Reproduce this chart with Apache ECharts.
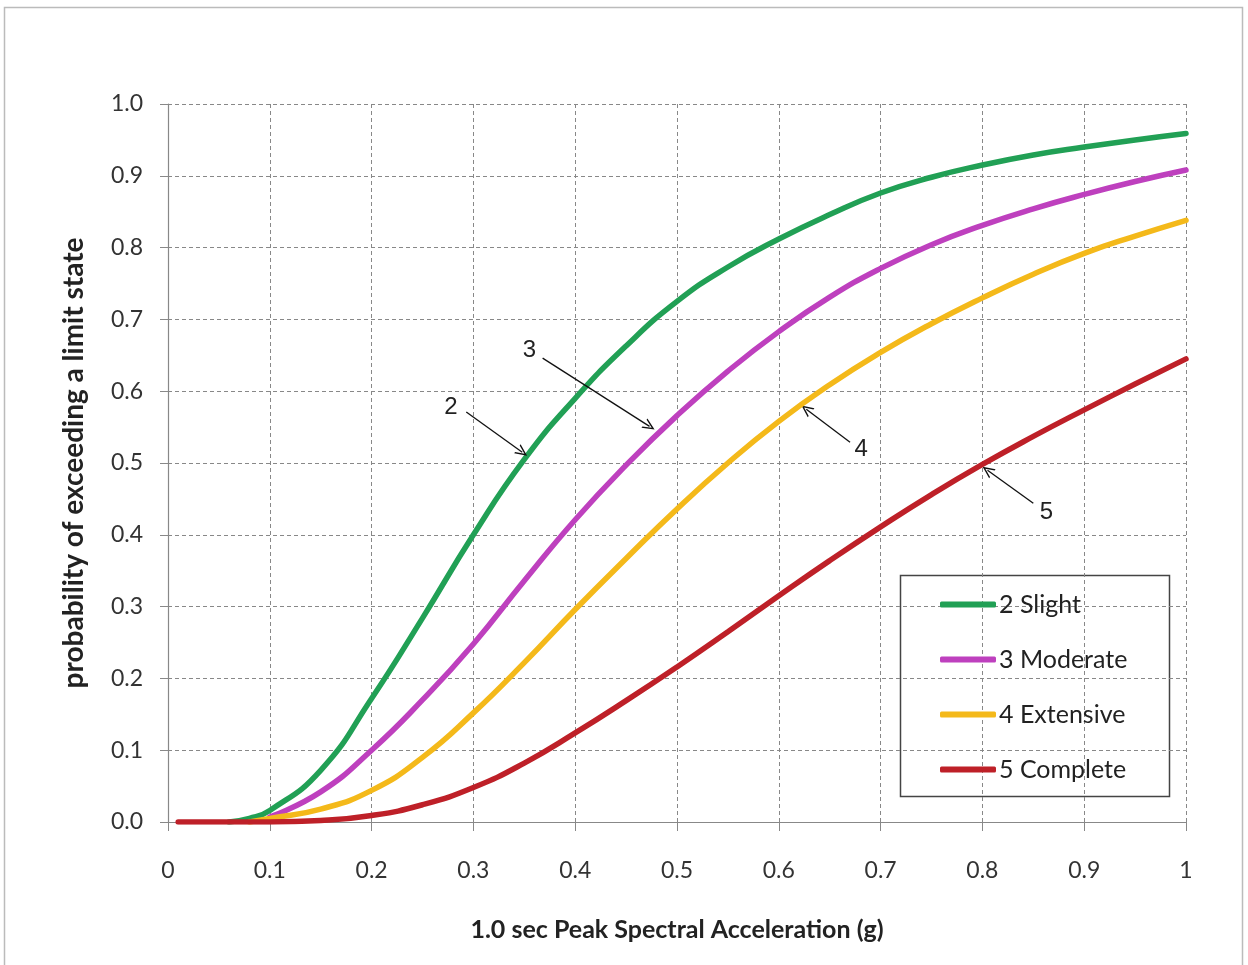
<!DOCTYPE html>
<html>
<head>
<meta charset="utf-8">
<script src="https://cdn.jsdelivr.net/npm/echarts@6/dist/echarts.min.js"></script>
<style>
html,body{margin:0;padding:0;background:#fff;}
#chart{width:1248px;height:965px;}
</style>
</head>
<body>
<div id="chart"></div>
<script>
// ---- data ----
var xValues   = [0.01, 0.06, 0.08, 0.10, 0.15, 0.20, 0.25, 0.30, 0.35, 0.40, 0.45, 0.50, 0.55, 0.60, 0.65, 0.70, 0.75, 0.80, 0.85, 0.90, 0.95, 1.00];
var slight    = [null, 0.000, 0.005, 0.016, 0.072, 0.172, 0.284, 0.400, 0.505, 0.590, 0.663, 0.725, 0.773, 0.812, 0.846, 0.876, 0.898, 0.915, 0.929, 0.940, 0.950, 0.959];
var moderate  = [null, null, null, 0.007, 0.042, 0.100, 0.170, 0.248, 0.336, 0.421, 0.497, 0.566, 0.628, 0.683, 0.731, 0.771, 0.804, 0.831, 0.854, 0.874, 0.892, 0.908];
var extensive = [null, null, 0.000, 0.005, 0.018, 0.044, 0.090, 0.152, 0.222, 0.296, 0.367, 0.436, 0.500, 0.558, 0.609, 0.654, 0.694, 0.730, 0.763, 0.792, 0.816, 0.838];
var complete  = [0.000, 0.000, 0.000, 0.000, 0.002, 0.009, 0.024, 0.048, 0.082, 0.124, 0.169, 0.216, 0.265, 0.315, 0.364, 0.411, 0.456, 0.498, 0.537, 0.574, 0.610, 0.645];
var seriesNames = ['2 Slight', '3 Moderate', '4 Extensive', '5 Complete'];
var xTicks = ['0', '0.1', '0.2', '0.3', '0.4', '0.5', '0.6', '0.7', '0.8', '0.9', '1'];
var yTicks = ['0.0', '0.1', '0.2', '0.3', '0.4', '0.5', '0.6', '0.7', '0.8', '0.9', '1.0'];
var xTitle = '1.0 sec Peak Spectral Acceleration (g)';
var yTitle = 'probability of exceeding a limit state';
// annotation arrows: label, label position, arrow start, arrow tip (data coords)
var noteLabels = ['2', '3', '4', '5'];
var noteText   = [[0.278, 0.578], [0.355, 0.657], [0.681, 0.519], [0.863, 0.431]];
var noteFrom   = [[0.293, 0.571], [0.368, 0.646], [0.670, 0.529], [0.850, 0.444]];
var noteTo     = [[0.348, 0.515], [0.473, 0.551], [0.627, 0.575], [0.805, 0.490]];

var colors = ['#21A055', '#BE40BE', '#F4B91A', '#BE2028'];
var allSeries = [slight, moderate, extensive, complete];

function pairs(ys) {
  return xValues.map(function (x, i) { return [x, ys[i]]; });
}

var series = allSeries.map(function (ys, i) {
  return {
    name: seriesNames[i],
    type: 'line',
    data: pairs(ys),
    smooth: 0.5,
    symbol: 'none',
    connectNulls: false,
    lineStyle: { width: 5.5, color: colors[i], cap: 'round' },
    itemStyle: { color: colors[i] },
    z: 3 + i
  };
});

series.push({
  name: 'notes',
  type: 'line',
  data: [],
  silent: true,
  markLine: {
    silent: true,
    symbol: ['none', 'path://M5,0 L10,10 L8.6,10 L5,2.8 L1.4,10 L0,10 Z'],
    symbolSize: [11, 12],
    animation: false,
    label: { show: false },
    lineStyle: { color: '#111', width: 1.3, type: 'solid' },
    data: noteFrom.map(function (f, i) {
      return [{ coord: f }, { coord: noteTo[i] }];
    })
  },
  markPoint: {
    silent: true,
    symbol: 'circle',
    symbolSize: 1,
    itemStyle: { color: 'rgba(0,0,0,0)' },
    animation: false,
    label: {
      show: true, position: 'inside', color: '#222',
      fontFamily: 'Liberation Sans, Arial, sans-serif', fontSize: 24,
      formatter: function (p) { return p.name; }
    },
    data: noteText.map(function (c, i) { return { name: noteLabels[i], coord: c }; })
  }
});

var chart = echarts.init(document.getElementById('chart'), null, { renderer: 'canvas' });
var labelFont = 'Lato, "Open Sans", sans-serif';
chart.setOption({
  animation: false,
  backgroundColor: '#ffffff',
  grid: { left: 168, top: 104, width: 1018, height: 718, containLabel: false },
  xAxis: {
    type: 'value', min: 0, max: 1, interval: 0.1,
    name: xTitle, nameLocation: 'middle', nameGap: 95,
    nameTextStyle: { fontFamily: labelFont, fontWeight: 'bold', fontSize: 25, color: '#222' },
    axisLine: { show: true, lineStyle: { color: '#888', width: 1.2 } },
    axisTick: { show: true, length: 9, lineStyle: { color: '#888' } },
    axisLabel: {
      margin: 37, fontFamily: labelFont, fontSize: 23, color: '#333',
      formatter: function (v) { return xTicks[Math.round(v * 10)]; }
    },
    splitLine: { show: true, lineStyle: { color: '#888', type: [4, 3], width: 1 } }
  },
  yAxis: {
    type: 'value', min: 0, max: 1, interval: 0.1,
    name: yTitle, nameLocation: 'middle', nameGap: 80,
    nameTextStyle: { fontFamily: labelFont, fontWeight: 'bold', fontSize: 28, color: '#222' },
    axisLine: { show: true, lineStyle: { color: '#888', width: 1.2 } },
    axisTick: { show: true, length: 8, lineStyle: { color: '#888' } },
    axisLabel: {
      margin: 25, fontFamily: labelFont, fontSize: 23, color: '#333',
      formatter: function (v) { return yTicks[Math.round(v * 10)]; }
    },
    splitLine: { show: true, lineStyle: { color: '#888', type: [4, 3], width: 1 } }
  },
  legend: {
    data: seriesNames,
    orient: 'vertical',
    left: 940, top: 592,
    padding: 0,
    itemGap: 30,
    itemWidth: 56, itemHeight: 6,
    icon: 'roundRect',
    textStyle: { fontFamily: labelFont, fontSize: 25, color: '#222', lineHeight: 22, padding: [0, 0, 0, -2] }
  },
  graphic: [
    { type: 'rect', z: -10, shape: { x: 4.5, y: 7.5, width: 1238, height: 970 },
      style: { fill: '#fff', stroke: '#bbb', lineWidth: 1.5 } },
    { type: 'rect', z: 0, shape: { x: 900.5, y: 575.5, width: 269, height: 221 },
      style: { fill: '#fff', stroke: '#444', lineWidth: 1.5 } }
  ],
  series: series
});
</script>
</body>
</html>
